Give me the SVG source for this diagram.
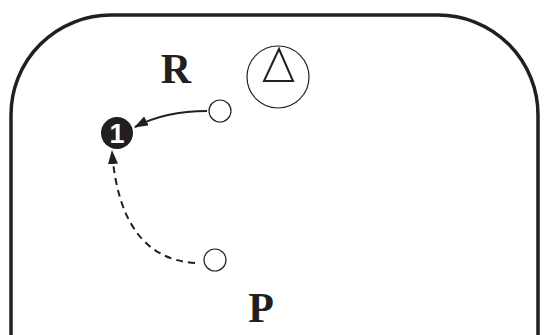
<svg xmlns="http://www.w3.org/2000/svg" width="547" height="335" viewBox="0 0 547 335">
<style>
.lbl{font-family:"Liberation Serif","Times New Roman",serif;font-weight:bold;font-size:42px;fill:#231f20}
.thin{fill:#fff;stroke:#231f20;stroke-width:1.2}
.conn{fill:none;stroke:#231f20;stroke-width:2}
</style>
<defs>
<marker id="ah" markerWidth="14" markerHeight="10" refX="13" refY="5" orient="auto" markerUnits="userSpaceOnUse">
<path d="M0,0 L14,5 L0,10 Z" fill="#231f20"/>
</marker>
</defs>
<rect id="court" x="11" y="15" width="527" height="420" rx="100" ry="100" fill="none" stroke="#231f20" stroke-width="3.5"/>
<g id="cone">
<circle cx="278" cy="77" r="31" class="thin"/>
<path d="M279,49 L264,81 L293,81 Z" fill="none" stroke="#231f20" stroke-width="2"/>
</g>
<g id="labelR"><text x="176" y="83" class="lbl" text-anchor="middle">R</text></g>
<g id="labelP"><text x="261" y="322" class="lbl" text-anchor="middle">P</text></g>
<g id="posR"><circle cx="220" cy="111" r="11" class="thin"/></g>
<g id="posP"><circle cx="215" cy="260" r="11" class="thin"/></g>
<g id="player1">
<circle cx="117" cy="133" r="16" fill="#231f20"/>
<text x="117" y="142.5" text-anchor="middle" font-family="Liberation Sans, Arial, sans-serif" font-weight="bold" font-size="27" fill="#fff">1</text>
</g>
<g id="connectors">
<path d="M207,111 Q165,111 135,127" class="conn" marker-end="url(#ah)"/>
<path d="M195,263 Q120,258 112,151" class="conn" stroke-dasharray="7,5" marker-end="url(#ah)"/>
</g>
</svg>
